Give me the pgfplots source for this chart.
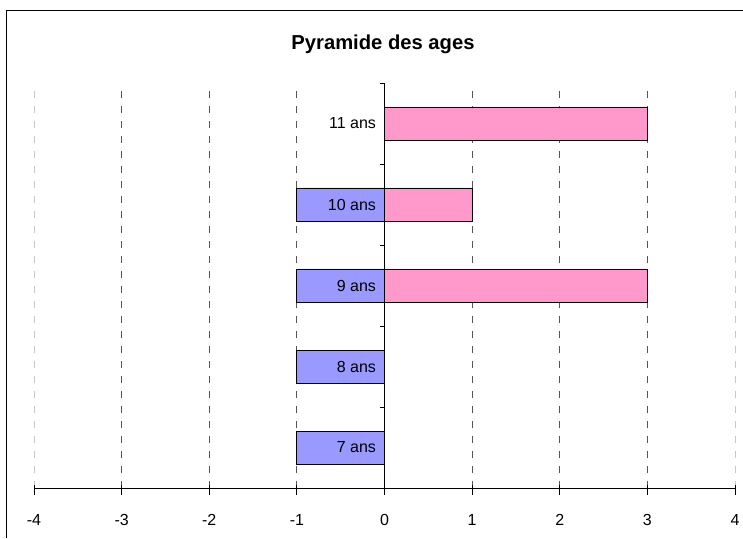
\documentclass[border=0pt]{standalone}
\usepackage{pgfplots}
\pgfplotsset{compat=1.18}
\usepackage{fontspec}
\setmainfont{Liberation Sans}
\definecolor{barblue}{HTML}{9999FF}
\definecolor{barpink}{HTML}{FF99CC}
\definecolor{gridgray}{HTML}{555555}
\definecolor{lightgrid}{HTML}{C8C8C8}
\begin{document}
\begin{tikzpicture}
\begin{axis}[
  set layers=standard,
  at={(0pt,0pt)}, anchor=south west,
  scale only axis, width=701pt, height=405pt,
  xmin=-4, xmax=4, ymin=6.5, ymax=11.5,
  axis x line=bottom, axis y line=center,
  hide obscured x ticks=false,
  axis line style={-, black, line width=0.8pt},
  x axis line style={-}, y axis line style={-},
  xtick={-3,...,3},
  extra x ticks={-4,4},
  extra x tick style={grid style={lightgrid, dash pattern=on 7pt off 8pt, line width=0.9pt}},
  xmajorgrids,
  grid style={gridgray, dash pattern=on 7pt off 8pt, line width=0.9pt},
  ytick={7,...,11},
  yticklabels={7 ans,8 ans,9 ans,10 ans,11 ans},
  minor ytick={7.5,8.5,9.5,10.5,11.5},
  tick align=center,
  major tick length=10pt,
  minor tick length=5pt,
  major x tick style={black, line width=0.8pt, yshift=-2pt},
  major y tick style={draw=none},
  minor y tick style={black, line width=0.8pt, xshift=-2.5pt},
  ticklabel style={font=\fontsize{16}{19}\selectfont},
  /pgf/number format/assume math mode=true,
  xticklabel style={yshift=-18pt},
]
\addplot[on layer=axis grid, xbar, bar width=33pt, bar shift=0pt, fill=barblue, draw=black, line width=0.8pt]
  coordinates {(-1,7) (-1,8) (-1,9) (-1,10)};
\addplot[on layer=axis grid, xbar, bar width=33pt, bar shift=0pt, fill=barpink, draw=black, line width=0.8pt]
  coordinates {(3,9) (1,10) (3,11)};
\end{axis}
\draw[line width=1pt] (-27pt,-50pt) -- (-27pt,477pt) -- (709pt,477pt);
\node[anchor=base, font=\bfseries\fontsize{20.2}{24}\selectfont] at (349pt,438pt) {Pyramide des ages};
\pgfresetboundingbox
\path[use as bounding box] (-34pt,-50pt) rectangle (709pt,488pt);
\end{tikzpicture}
\end{document}
